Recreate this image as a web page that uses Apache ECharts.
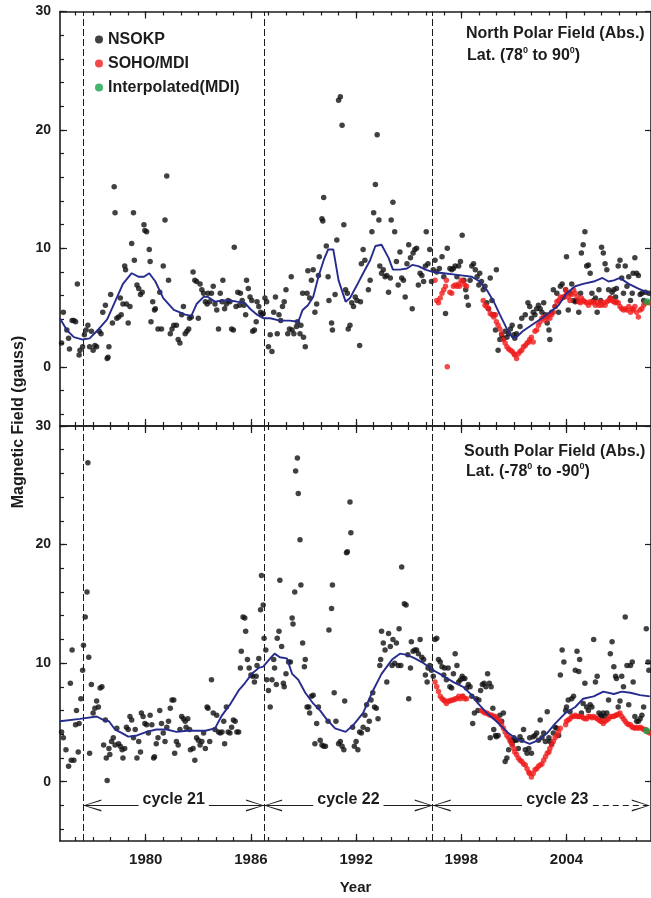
<!DOCTYPE html>
<html><head><meta charset="utf-8">
<script src="https://cdn.jsdelivr.net/npm/echarts@6/dist/echarts.min.js"></script>
<style>html,body{margin:0;padding:0;background:#fff}#c{width:651px;height:898px}</style>
</head><body><div id="c"></div>
<script>
// ---------- axis ticks / labels ----------
const xMajorTicks = [1980, 1986, 1992, 1998, 2004];
const xMinorTicks = [1976,1977,1978,1979,1980,1981,1982,1983,1984,1985,1986,1987,1988,1989,1990,1991,1992,1993,1994,1995,1996,1997,1998,1999,2000,2001,2002,2003,2004,2005,2006,2007,2008];
const yMajorTicks = [0, 10, 20, 30];
const yMinorTicks = [-4,-2,0,2,4,6,8,10,12,14,16,18,20,22,24,26,28,30];
const cycleStarts = [1976.44, 1986.75, 1996.37];
const cycleNames = ['cycle 21', 'cycle 22', 'cycle 23'];

// ---------- North polar field ----------
const northNso = [[1975.1,2.7],[1975.2,2.0],[1975.3,4.6],[1975.5,3.1],[1975.6,2.4],[1975.65,1.5],[1975.8,3.9],[1975.9,3.9],[1976.0,3.8],[1976.1,7.0],[1976.2,1.0],[1976.25,1.4],[1976.4,1.7],[1976.5,2.7],[1976.6,3.1],[1976.7,3.5],[1976.8,1.7],[1976.9,3.0],[1977.0,1.4],[1977.1,1.8],[1977.2,1.7],[1977.35,3.0],[1977.45,2.8],[1977.55,4.6],[1977.7,5.2],[1977.8,0.7],[1977.85,0.8],[1977.9,1.7],[1978.0,6.1],[1978.1,3.7],[1978.2,15.2],[1978.25,13.0],[1978.35,4.1],[1978.45,4.2],[1978.55,5.8],[1978.6,4.4],[1978.7,5.3],[1978.8,8.5],[1978.85,8.2],[1978.9,5.3],[1979.0,3.7],[1979.1,5.1],[1979.2,10.4],[1979.3,13.0],[1979.35,9.0],[1979.5,6.9],[1979.6,6.6],[1979.7,6.1],[1979.8,6.3],[1979.9,12.0],[1979.95,11.5],[1980.05,11.4],[1980.2,9.9],[1980.25,8.9],[1980.3,3.8],[1980.4,5.5],[1980.5,4.8],[1980.55,4.9],[1980.7,3.2],[1980.8,6.3],[1980.9,3.2],[1981.0,8.5],[1981.1,12.4],[1981.2,16.1],[1981.3,7.3],[1981.4,2.8],[1981.5,3.2],[1981.6,3.5],[1981.75,3.5],[1981.85,2.3],[1981.95,2.0],[1982.05,4.4],[1982.15,5.1],[1982.25,2.8],[1982.35,3.0],[1982.45,3.2],[1982.5,4.1],[1982.6,4.2],[1982.7,8.0],[1982.8,7.3],[1982.9,7.2],[1983.0,4.1],[1983.1,7.0],[1983.2,6.5],[1983.3,6.2],[1983.4,5.5],[1983.5,5.3],[1983.55,6.2],[1983.65,5.5],[1983.75,6.2],[1983.85,6.8],[1983.95,5.3],[1984.05,4.8],[1984.15,3.2],[1984.25,6.2],[1984.35,5.5],[1984.4,7.3],[1984.5,4.9],[1984.6,5.3],[1984.7,5.6],[1984.8,5.5],[1984.9,3.2],[1985.0,3.1],[1985.05,10.1],[1985.15,5.1],[1985.25,6.3],[1985.35,5.2],[1985.4,6.2],[1985.5,5.6],[1985.6,5.2],[1985.7,4.4],[1985.75,7.3],[1985.85,6.6],[1985.95,5.9],[1986.05,5.6],[1986.1,3.0],[1986.2,3.1],[1986.3,3.8],[1986.35,5.5],[1986.45,5.1],[1986.55,4.6],[1986.6,4.4],[1986.7,4.5],[1986.8,5.8],[1986.9,5.5],[1987.0,1.7],[1987.1,2.7],[1987.2,1.3],[1987.3,4.6],[1987.4,5.9],[1987.5,2.8],[1987.6,4.4],[1987.7,3.9],[1987.8,5.1],[1987.9,5.5],[1988.0,6.5],[1988.1,2.8],[1988.2,3.2],[1988.3,7.6],[1988.35,3.1],[1988.45,2.8],[1988.6,3.4],[1988.65,3.8],[1988.8,2.8],[1988.85,3.5],[1988.95,6.2],[1989.0,2.5],[1989.1,1.7],[1989.2,6.2],[1989.25,8.1],[1989.35,5.8],[1989.45,7.3],[1989.55,8.2],[1989.65,4.6],[1989.75,5.3],[1989.85,7.7],[1989.9,9.3],[1990.05,12.5],[1990.1,12.3],[1990.15,14.3],[1990.3,10.2],[1990.4,7.6],[1990.45,5.6],[1990.6,3.7],[1990.65,3.1],[1990.8,6.1],[1990.9,10.7],[1991.0,22.5],[1991.1,22.8],[1991.2,20.4],[1991.3,12.0],[1991.4,6.5],[1991.5,6.2],[1991.55,3.2],[1991.65,3.5],[1991.75,5.4],[1991.85,5.1],[1991.95,5.9],[1992.05,5.6],[1992.2,1.8],[1992.25,5.5],[1992.3,8.7],[1992.4,9.9],[1992.5,9.0],[1992.7,6.5],[1992.8,7.3],[1992.9,11.4],[1993.0,13.0],[1993.1,15.4],[1993.2,19.6],[1993.3,12.4],[1993.35,8.5],[1993.45,7.9],[1993.55,8.2],[1993.65,7.6],[1993.75,7.7],[1993.85,6.3],[1993.95,7.5],[1994.0,12.4],[1994.1,13.9],[1994.2,11.4],[1994.3,8.9],[1994.4,6.9],[1994.5,9.7],[1994.6,7.5],[1994.7,7.3],[1994.8,5.9],[1994.9,8.7],[1995.0,10.3],[1995.1,9.2],[1995.2,4.9],[1995.25,9.6],[1995.35,9.9],[1995.45,10.0],[1995.55,6.9],[1995.65,7.9],[1995.75,7.7],[1995.85,7.2],[1995.95,8.5],[1996.0,11.4],[1996.1,8.7],[1996.2,9.9],[1996.3,7.2],[1996.4,8.2],[1996.5,9.0],[1996.6,8.0],[1996.75,8.3],[1996.9,9.3],[1997.0,7.6],[1997.1,4.5],[1997.2,10.0],[1997.35,8.3],[1997.45,8.2],[1997.55,8.3],[1997.65,8.5],[1997.75,7.6],[1997.85,8.5],[1997.95,8.9],[1998.05,11.1],[1998.15,7.3],[1998.25,6.5],[1998.3,5.9],[1998.4,5.2],[1998.5,7.3],[1998.6,8.5],[1998.7,8.7],[1998.8,8.2],[1998.9,7.6],[1999.0,6.9],[1999.05,7.9],[1999.15,7.2],[1999.25,6.5],[1999.35,6.8],[1999.45,5.4],[1999.55,4.9],[1999.65,7.5],[1999.75,5.6],[1999.85,4.4],[1999.95,3.1],[2000.0,8.2],[2000.1,1.4],[2000.2,2.3],[2000.3,2.7],[2000.4,2.4],[2000.5,3.0],[2000.6,2.5],[2000.7,2.8],[2000.8,3.2],[2000.9,3.5],[2001.0,2.7],[2001.05,2.4],[2001.15,2.8],[2001.35,3.4],[2001.45,4.1],[2001.65,4.4],[2001.8,5.4],[2001.9,5.1],[2002.0,4.1],[2002.1,4.6],[2002.2,4.4],[2002.3,4.9],[2002.4,5.2],[2002.5,4.9],[2002.6,4.6],[2002.7,5.4],[2002.8,4.4],[2002.9,3.7],[2003.0,3.1],[2003.05,2.3],[2003.15,4.6],[2003.25,6.5],[2003.35,5.1],[2003.45,6.2],[2003.55,4.6],[2003.65,6.8],[2003.75,7.0],[2003.85,5.9],[2003.95,6.5],[2004.0,9.3],[2004.1,4.8],[2004.2,6.2],[2004.3,7.0],[2004.4,5.6],[2004.5,5.5],[2004.6,5.6],[2004.7,4.6],[2004.8,6.2],[2004.85,9.6],[2004.95,10.3],[2005.05,11.4],[2005.15,8.5],[2005.25,8.6],[2005.35,7.9],[2005.45,6.2],[2005.55,5.6],[2005.65,5.8],[2005.75,4.6],[2005.85,6.5],[2005.95,5.6],[2006.0,10.1],[2006.1,9.6],[2006.2,8.7],[2006.3,8.2],[2006.4,6.5],[2006.5,5.8],[2006.6,6.3],[2006.7,6.5],[2006.8,5.9],[2006.85,6.6],[2006.95,8.5],[2007.05,9.0],[2007.15,7.5],[2007.25,6.2],[2007.35,8.5],[2007.45,6.8],[2007.55,7.6],[2007.65,5.6],[2007.75,6.2],[2007.8,7.9],[2007.9,9.2],[2008.0,7.9],[2008.1,7.7],[2008.2,6.1],[2008.3,6.2],[2008.4,5.6],[2008.5,6.3],[2008.7,6.2]];
const northMdi = [[1996.5,7.3],[1996.6,5.6],[1996.7,5.4],[1996.8,5.8],[1996.9,6.2],[1997.0,6.5],[1997.1,6.8],[1997.15,7.3],[1997.2,0.0],[1997.35,6.3],[1997.45,6.2],[1997.55,6.8],[1997.65,6.9],[1997.75,6.8],[1997.85,7.0],[1997.9,6.8],[1998.0,7.3],[1998.1,7.2],[1998.2,6.9],[1998.3,6.8],[1999.25,5.6],[1999.35,5.2],[1999.45,5.1],[1999.55,4.9],[1999.65,4.5],[1999.75,4.4],[1999.85,4.2],[1999.95,4.4],[2000.0,3.8],[2000.1,3.5],[2000.2,3.2],[2000.3,2.8],[2000.4,2.3],[2000.5,2.0],[2000.6,1.7],[2000.7,1.5],[2000.8,1.4],[2000.9,1.3],[2001.0,1.1],[2001.05,1.0],[2001.15,0.7],[2001.25,1.1],[2001.35,1.3],[2001.45,1.4],[2001.55,1.7],[2001.65,1.8],[2001.75,2.0],[2001.85,2.1],[2001.9,2.3],[2002.0,2.5],[2002.1,2.1],[2002.2,3.0],[2002.3,3.1],[2002.4,3.5],[2002.5,3.8],[2002.6,4.1],[2002.7,4.2],[2002.8,3.9],[2002.9,4.2],[2003.0,4.4],[2003.05,4.1],[2003.15,4.4],[2003.25,4.6],[2003.35,5.1],[2003.45,5.5],[2003.55,5.6],[2003.65,5.9],[2003.75,5.8],[2003.85,5.9],[2003.95,6.5],[2004.0,6.2],[2004.1,5.9],[2004.2,5.6],[2004.3,6.1],[2004.4,6.5],[2004.5,6.2],[2004.6,5.9],[2004.7,5.5],[2004.8,5.4],[2004.85,5.8],[2004.95,5.6],[2005.05,5.5],[2005.15,5.4],[2005.25,5.2],[2005.35,5.5],[2005.45,5.4],[2005.55,5.5],[2005.65,5.2],[2005.75,5.4],[2005.85,5.2],[2005.95,5.5],[2006.0,5.2],[2006.1,5.4],[2006.2,5.2],[2006.3,5.5],[2006.4,5.6],[2006.5,5.8],[2006.6,5.6],[2006.7,5.5],[2006.8,5.4],[2006.85,5.5],[2006.95,5.4],[2007.05,5.1],[2007.15,4.9],[2007.25,4.8],[2007.35,4.9],[2007.45,4.8],[2007.55,5.1],[2007.65,4.6],[2007.75,4.9],[2007.8,4.8],[2007.9,5.1],[2008.0,4.6],[2008.1,4.2],[2008.2,4.8],[2008.3,4.9],[2008.4,5.2],[2008.5,5.4],[2008.7,5.4]];
const northInterp = [[2008.6,5.5]];
const northSmooth = [[1975.1,4.1],[1975.5,3.1],[1975.9,2.5],[1976.4,2.3],[1976.8,2.4],[1977.2,3.0],[1977.8,4.0],[1978.25,5.5],[1978.7,7.0],[1979.2,7.9],[1979.6,7.6],[1979.9,7.6],[1980.2,7.9],[1980.55,7.2],[1981.0,5.8],[1981.6,4.8],[1981.95,4.6],[1982.25,4.4],[1982.6,4.3],[1982.9,5.3],[1983.3,5.9],[1983.55,5.9],[1983.95,5.5],[1984.35,5.6],[1984.8,5.6],[1985.2,5.5],[1985.65,5.4],[1985.95,4.9],[1986.35,4.4],[1986.7,4.1],[1987.1,4.1],[1987.65,3.9],[1988.2,3.9],[1988.7,3.8],[1988.95,4.8],[1989.25,5.2],[1989.55,5.9],[1989.85,7.6],[1990.15,9.0],[1990.4,9.9],[1990.7,9.9],[1991.0,7.3],[1991.4,5.5],[1991.65,5.8],[1992.05,6.9],[1992.4,7.9],[1992.8,9.0],[1993.1,10.2],[1993.45,10.3],[1993.85,9.2],[1994.1,8.2],[1994.5,8.2],[1994.9,8.3],[1995.2,8.6],[1995.55,8.5],[1995.95,8.2],[1996.4,8.0],[1997.0,7.9],[1997.55,7.8],[1998.1,7.7],[1998.6,7.6],[1999.05,7.2],[1999.45,6.5],[1999.85,5.5],[2000.2,4.4],[2000.6,3.2],[2000.9,2.5],[2001.15,2.5],[2001.5,3.0],[2002.0,3.5],[2002.6,4.1],[2003.05,4.6],[2003.55,5.2],[2004.0,6.2],[2004.5,6.8],[2004.95,7.0],[2005.55,7.2],[2006.05,7.5],[2006.4,7.2],[2006.7,7.3],[2007.05,7.5],[2007.55,7.0],[2008.1,6.6],[2008.75,6.2]];

// ---------- South polar field ----------
const southNso = [[1975.1,3.8],[1975.2,4.2],[1975.3,3.7],[1975.45,2.7],[1975.6,1.3],[1975.7,8.3],[1975.75,1.8],[1975.8,11.1],[1975.9,1.8],[1976.0,4.8],[1976.05,6.0],[1976.15,2.5],[1976.2,4.9],[1976.3,7.0],[1976.4,9.4],[1976.45,11.5],[1976.55,13.9],[1976.65,16.0],[1976.7,26.9],[1976.75,10.5],[1976.8,2.4],[1976.9,8.2],[1977.0,5.8],[1977.1,6.2],[1977.2,6.8],[1977.3,6.3],[1977.4,7.9],[1977.5,8.0],[1977.6,3.1],[1977.7,5.2],[1977.75,2.0],[1977.8,0.1],[1977.9,2.8],[1977.95,2.3],[1978.05,3.4],[1978.15,3.7],[1978.25,3.1],[1978.35,4.5],[1978.45,3.2],[1978.55,3.0],[1978.65,2.7],[1978.7,2.0],[1978.8,2.8],[1978.9,4.6],[1979.0,4.4],[1979.1,5.5],[1979.2,5.2],[1979.3,3.7],[1979.4,4.4],[1979.5,2.0],[1979.6,3.4],[1979.7,2.5],[1979.75,5.8],[1979.85,5.5],[1979.95,4.9],[1980.05,4.8],[1980.15,4.1],[1980.25,5.6],[1980.35,4.8],[1980.45,2.0],[1980.5,2.1],[1980.6,3.2],[1980.7,3.7],[1980.8,6.0],[1980.9,4.9],[1981.0,4.1],[1981.1,3.4],[1981.2,4.6],[1981.3,5.1],[1981.4,6.2],[1981.5,6.9],[1981.6,6.9],[1981.65,2.4],[1981.75,3.4],[1981.85,3.1],[1981.95,4.4],[1982.05,5.5],[1982.15,5.3],[1982.25,5.1],[1982.3,4.6],[1982.4,5.3],[1982.5,4.4],[1982.55,2.7],[1982.7,2.8],[1982.8,1.8],[1982.9,3.7],[1983.0,3.5],[1983.1,3.1],[1983.2,3.4],[1983.3,4.1],[1983.4,2.8],[1983.5,6.3],[1983.55,6.2],[1983.65,3.4],[1983.75,8.6],[1983.85,5.8],[1983.95,4.4],[1984.05,5.6],[1984.15,4.2],[1984.25,4.1],[1984.35,4.2],[1984.45,5.1],[1984.5,3.2],[1984.6,6.3],[1984.7,4.2],[1984.8,4.1],[1984.9,4.6],[1985.0,5.2],[1985.1,5.1],[1985.2,4.2],[1985.3,4.2],[1985.4,9.6],[1985.45,11.0],[1985.55,13.9],[1985.65,13.8],[1985.7,12.7],[1985.8,10.3],[1985.9,9.6],[1986.0,9.0],[1986.1,8.9],[1986.2,8.4],[1986.3,8.9],[1986.35,9.8],[1986.45,10.4],[1986.55,14.5],[1986.6,17.4],[1986.7,14.9],[1986.75,12.1],[1986.85,11.1],[1986.9,8.6],[1987.0,7.7],[1987.1,6.3],[1987.2,8.6],[1987.3,10.3],[1987.35,9.6],[1987.45,8.2],[1987.5,12.1],[1987.6,12.7],[1987.65,17.0],[1987.75,11.4],[1987.85,8.3],[1987.9,8.0],[1988.0,9.1],[1988.15,10.1],[1988.25,10.1],[1988.35,13.8],[1988.4,13.3],[1988.5,16.0],[1988.55,26.2],[1988.65,27.3],[1988.7,24.3],[1988.8,20.4],[1988.85,16.6],[1988.95,11.7],[1989.05,9.7],[1989.1,10.3],[1989.2,6.3],[1989.3,6.3],[1989.35,5.8],[1989.45,7.2],[1989.55,7.3],[1989.65,3.2],[1989.75,4.9],[1989.85,6.3],[1989.95,3.5],[1990.05,3.1],[1990.15,3.0],[1990.25,3.0],[1990.4,5.1],[1990.45,12.8],[1990.6,14.6],[1990.65,16.6],[1990.75,7.5],[1990.85,5.1],[1991.0,3.2],[1991.1,3.4],[1991.2,3.0],[1991.3,2.7],[1991.35,6.8],[1991.45,19.3],[1991.5,19.4],[1991.65,23.6],[1991.7,21.0],[1991.8,4.6],[1991.9,3.0],[1992.0,3.4],[1992.1,2.7],[1992.2,4.2],[1992.3,4.1],[1992.4,4.6],[1992.5,5.6],[1992.6,6.5],[1992.65,4.4],[1992.75,5.1],[1992.85,6.9],[1992.95,7.5],[1993.05,6.3],[1993.15,6.2],[1993.25,5.3],[1993.35,9.8],[1993.4,10.3],[1993.45,12.7],[1993.55,11.7],[1993.65,11.1],[1993.75,8.4],[1993.85,12.5],[1993.95,11.4],[1994.05,9.8],[1994.1,12.0],[1994.2,10.0],[1994.3,11.7],[1994.4,9.8],[1994.45,12.9],[1994.55,9.8],[1994.6,18.1],[1994.75,15.0],[1994.85,14.9],[1994.95,10.7],[1995.0,7.0],[1995.1,9.6],[1995.15,11.8],[1995.25,11.0],[1995.35,11.1],[1995.45,11.1],[1995.55,10.8],[1995.65,12.0],[1995.75,10.5],[1995.85,10.3],[1995.95,9.0],[1996.05,8.4],[1996.1,9.6],[1996.2,9.8],[1996.3,9.4],[1996.4,8.9],[1996.5,12.0],[1996.6,12.1],[1996.7,10.3],[1996.8,10.1],[1996.9,9.7],[1997.0,9.0],[1997.05,9.6],[1997.15,8.6],[1997.25,9.6],[1997.35,8.0],[1997.45,7.9],[1997.55,9.1],[1997.65,10.8],[1997.75,9.8],[1997.85,8.4],[1997.95,8.6],[1998.05,8.9],[1998.1,8.7],[1998.2,8.7],[1998.3,7.9],[1998.4,8.2],[1998.5,8.0],[1998.6,7.2],[1998.65,4.9],[1998.75,5.8],[1998.85,7.0],[1998.95,6.0],[1999.0,6.9],[1999.1,7.7],[1999.2,8.2],[1999.3,8.3],[1999.4,8.0],[1999.5,9.1],[1999.6,8.3],[1999.7,8.0],[1999.8,6.2],[1999.65,3.7],[1999.85,4.4],[1999.95,3.9],[2000.0,3.8],[2000.1,3.9],[2000.2,5.6],[2000.3,5.1],[2000.4,5.8],[2000.5,1.7],[2000.6,2.0],[2000.7,2.7],[2000.8,3.5],[2000.9,3.2],[2001.0,3.7],[2001.05,3.5],[2001.15,3.5],[2001.25,2.8],[2001.35,3.8],[2001.45,3.5],[2001.55,4.4],[2001.65,2.7],[2001.75,2.4],[2001.85,2.8],[2001.9,3.7],[2002.0,2.4],[2002.1,3.8],[2002.2,3.9],[2002.3,4.1],[2002.4,3.5],[2002.5,5.2],[2002.6,3.7],[2002.7,4.1],[2002.8,3.4],[2002.9,5.9],[2003.0,3.7],[2003.05,3.4],[2003.15,3.2],[2003.25,4.1],[2003.35,4.6],[2003.45,4.5],[2003.55,3.9],[2003.65,9.0],[2003.75,11.1],[2003.85,10.1],[2003.95,6.0],[2004.0,6.3],[2004.1,6.9],[2004.2,5.9],[2004.3,7.0],[2004.4,7.2],[2004.5,9.4],[2004.6,11.0],[2004.7,9.3],[2004.75,10.3],[2004.85,5.8],[2004.95,6.6],[2005.05,8.3],[2005.15,6.3],[2005.25,6.0],[2005.35,6.5],[2005.45,6.3],[2005.55,12.0],[2005.65,8.4],[2005.75,8.9],[2005.85,5.8],[2005.95,5.6],[2006.0,5.5],[2006.1,5.8],[2006.2,5.5],[2006.3,5.8],[2006.4,6.9],[2006.5,10.8],[2006.6,11.8],[2006.7,9.7],[2006.8,8.9],[2006.85,8.7],[2006.95,6.3],[2007.05,6.8],[2007.15,8.9],[2007.25,8.0],[2007.35,13.9],[2007.45,9.8],[2007.55,6.5],[2007.65,9.8],[2007.75,10.1],[2007.8,8.4],[2007.9,5.5],[2008.0,5.1],[2008.1,5.1],[2008.2,5.3],[2008.3,5.6],[2008.4,6.3],[2008.55,12.9],[2008.65,10.1],[2008.7,9.4]];
const southMdi = [[1996.5,8.4],[1996.6,8.0],[1996.7,7.6],[1996.8,7.2],[1996.9,7.0],[1997.0,6.9],[1997.05,6.8],[1997.15,6.6],[1997.25,6.8],[1997.35,6.8],[1997.45,6.9],[1997.55,6.9],[1997.65,7.0],[1997.75,7.0],[1997.85,7.2],[1997.95,7.0],[1998.05,7.2],[1998.1,7.2],[1998.2,7.0],[1998.3,7.0],[1999.15,6.0],[1999.25,5.9],[1999.35,5.8],[1999.45,5.8],[1999.55,5.7],[1999.65,5.6],[1999.75,5.6],[1999.85,5.5],[1999.95,5.5],[2000.0,5.3],[2000.1,5.2],[2000.2,5.1],[2000.3,4.8],[2000.4,4.5],[2000.5,4.2],[2000.6,3.9],[2000.7,3.7],[2000.8,3.4],[2000.9,3.1],[2001.0,2.8],[2001.05,2.5],[2001.15,2.3],[2001.25,2.0],[2001.35,1.8],[2001.45,1.7],[2001.55,1.5],[2001.65,1.4],[2001.75,1.1],[2001.85,0.8],[2001.9,0.7],[2002.0,0.4],[2002.1,0.7],[2002.2,1.0],[2002.3,1.1],[2002.4,1.3],[2002.5,1.4],[2002.6,1.5],[2002.7,1.8],[2002.8,2.1],[2002.9,2.4],[2003.0,2.5],[2003.05,2.8],[2003.15,3.1],[2003.25,3.4],[2003.35,3.7],[2003.45,3.9],[2003.55,4.2],[2003.65,4.5],[2003.95,4.8],[2004.0,5.1],[2004.1,5.2],[2004.2,5.3],[2004.3,5.5],[2004.4,5.5],[2004.5,5.6],[2004.6,5.5],[2004.7,5.5],[2004.75,5.5],[2004.85,5.5],[2004.95,5.4],[2005.05,5.3],[2005.15,5.3],[2005.25,5.5],[2005.35,5.5],[2005.45,5.4],[2005.55,5.5],[2005.65,5.4],[2005.75,5.3],[2005.85,5.2],[2005.95,5.1],[2006.0,5.1],[2006.1,4.9],[2006.2,5.1],[2006.3,5.2],[2006.4,5.3],[2006.5,5.5],[2006.6,5.5],[2006.7,5.5],[2006.8,5.6],[2006.85,5.6],[2006.95,5.7],[2007.05,5.8],[2007.15,5.5],[2007.25,5.3],[2007.35,5.1],[2007.45,4.9],[2007.55,4.8],[2007.65,4.8],[2007.75,4.6],[2007.8,4.6],[2007.9,4.5],[2008.0,4.6],[2008.1,4.5],[2008.2,4.6],[2008.3,4.5],[2008.4,4.4],[2008.5,4.4],[2008.65,4.2],[2008.75,4.1]];
const southInterp = [[2008.57,4.3]];
const southSmooth = [[1975.1,5.1],[1976.25,5.3],[1977.2,5.5],[1977.6,5.2],[1977.9,5.1],[1978.25,4.4],[1978.65,4.1],[1979.0,3.8],[1979.5,3.9],[1980.05,4.2],[1980.6,4.4],[1981.2,4.4],[1981.75,4.2],[1982.35,4.3],[1982.9,4.3],[1983.4,4.3],[1983.95,4.5],[1984.35,5.6],[1984.8,6.5],[1985.3,7.7],[1985.65,8.3],[1986.05,9.1],[1986.45,9.6],[1986.7,9.7],[1987.1,10.4],[1987.35,10.8],[1987.65,10.5],[1988.05,10.4],[1988.35,9.1],[1988.7,8.6],[1989.1,7.5],[1989.55,6.6],[1989.95,6.0],[1990.3,5.3],[1990.8,4.5],[1991.4,4.2],[1991.85,4.8],[1992.4,5.8],[1992.9,7.5],[1993.45,9.1],[1994.05,10.3],[1994.5,10.8],[1994.9,10.7],[1995.35,10.4],[1995.85,10.0],[1996.4,9.4],[1997.0,8.9],[1997.55,8.4],[1998.1,8.0],[1998.6,7.3],[1998.95,6.6],[1999.45,5.8],[2000.0,5.1],[2000.6,4.2],[2001.15,3.6],[2001.55,3.4],[2001.9,3.2],[2002.4,3.5],[2002.9,4.1],[2003.35,4.9],[2003.95,5.8],[2004.5,6.3],[2004.95,7.0],[2005.55,7.2],[2006.1,7.6],[2006.7,7.4],[2007.15,7.6],[2007.65,7.5],[2008.2,7.3],[2008.75,7.2]];

// ---------- layout / style ----------
const XMIN = 1975.11, XMAX = 2008.82;
const FONT = 'Liberation Sans, Arial, Helvetica, sans-serif';
const INK = '#1c1c1c';
const BLACK = '#111111', RED = '#f01c1c', GREEN = '#17a34a', BLUE = '#262c8e';
const CHEV = 'path://M5,0 L5.01,0 L5,0.01 Z M5,20 L10,40 L8.8,40 L5,22.2 L1.2,40 L0,40 Z';

function xAx(g, pos, ticks, len, line, labels, extra) {
  return Object.assign({
    type: 'value', gridIndex: g, position: pos, min: XMIN, max: XMAX,
    axisLine: { show: line, onZero: false, lineStyle: { color: INK, width: 1.6 } },
    axisTick: { show: true, inside: true, length: len, customValues: ticks, lineStyle: { color: INK, width: 1.2 } },
    axisLabel: { show: !!labels, customValues: labels || [], margin: 11, color: INK, fontFamily: FONT, fontWeight: 'bold', fontSize: 15,
      formatter: v => String(Math.round(v)) },
    splitLine: { show: false }
  }, extra || {});
}
function yAx(g, pos, ticks, len, line, labels) {
  return {
    type: 'value', gridIndex: g, position: pos, min: -5, max: 30,
    axisLine: { show: line, onZero: false, lineStyle: { color: INK, width: 1.6 } },
    axisTick: { show: true, inside: true, length: len, customValues: ticks, lineStyle: { color: INK, width: 1.2 } },
    axisLabel: { show: !!labels, customValues: labels || [], margin: 9, color: INK, fontFamily: FONT, fontWeight: 'bold', fontSize: 14 },
    splitLine: { show: false }
  };
}

const xAxes = [], yAxes = [];
[0, 1].forEach(g => {
  xAxes.push(xAx(g, 'bottom', xMajorTicks, 7, true, g === 1 ? xMajorTicks : null,
    g === 1 ? { name: 'Year', nameLocation: 'middle', nameGap: 39, nameTextStyle: { color: INK, fontFamily: FONT, fontWeight: 'bold', fontSize: 15 } } : null));
  xAxes.push(xAx(g, 'bottom', xMinorTicks, 4, false, null));
  xAxes.push(xAx(g, 'top', xMajorTicks, 7, true, null));
  xAxes.push(xAx(g, 'top', xMinorTicks, 4, false, null));
  yAxes.push(yAx(g, 'left', yMajorTicks, 7, true, yMajorTicks));
  yAxes.push(yAx(g, 'left', yMinorTicks, 4, false, null));
  yAxes.push(yAx(g, 'right', yMajorTicks, 6, true, null));
});

function scatter(name, data, g, color, size) {
  return { name, type: 'scatter', data, xAxisIndex: g * 4, yAxisIndex: g * 3,
    symbol: 'circle', symbolSize: size, itemStyle: { color }, silent: true, z: 3 };
}
const vLines = cycleStarts.map(v => ({ xAxis: v }));
function smoothLine(data, g, extraMarks) {
  return { name: 'smooth', type: 'line', data, xAxisIndex: g * 4, yAxisIndex: g * 3,
    showSymbol: false, symbol: 'none', lineStyle: { color: BLUE, width: 1.9 }, z: 5, silent: true,
    markLine: { silent: true, symbol: ['none', 'none'], animation: false,
      lineStyle: { color: INK, width: 1, type: [7, 3] }, label: { show: false },
      data: vLines.concat(extraMarks || []) } };
}

const cycLabel = (txt) => ({ show: true, position: 'middle', formatter: txt, color: INK, fontFamily: FONT,
  fontWeight: 'bold', fontSize: 16, backgroundColor: '#fff', padding: [0, 4, 0, 4], distance: -2 });
const CY = -2;
const cycleMarks = [
  [{ coord: [cycleStarts[0], CY], symbol: CHEV, symbolSize: [12, 36], lineStyle: { type: 'solid', color: INK, width: 1 }, label: cycLabel(cycleNames[0]) },
   { coord: [cycleStarts[1], CY], symbol: CHEV, symbolSize: [12, 36] }],
  [{ coord: [cycleStarts[1], CY], symbol: CHEV, symbolSize: [12, 36], lineStyle: { type: 'solid', color: INK, width: 1 }, label: cycLabel(cycleNames[1]) },
   { coord: [cycleStarts[2], CY], symbol: CHEV, symbolSize: [12, 36] }],
  [{ coord: [cycleStarts[2], CY], symbol: CHEV, symbolSize: [12, 36], lineStyle: { type: 'solid', color: INK, width: 1 } },
   { coord: [2001.46, CY], symbol: 'none' }],
  [{ coord: [2001.46, CY], symbol: 'none', lineStyle: { type: 'solid', color: 'rgba(0,0,0,0)', width: 1 }, label: cycLabel(cycleNames[2]) },
   { coord: [2005.5, CY], symbol: 'none' }],
  [{ coord: [2005.5, CY], symbol: 'none', lineStyle: { type: [6, 4], color: INK, width: 1 } },
   { coord: [2008.75, CY], symbol: CHEV, symbolSize: [12, 36] }]
];

const txt = (x, y, text, extra) => Object.assign({ type: 'text', x, y, silent: true,
  style: { text, fill: INK, font: 'bold 16px ' + FONT, verticalAlign: 'middle' } }, extra || {});
const latRich = { a: { fontFamily: FONT, fontWeight: 'bold', fontSize: 16, fill: INK, color: INK, lineHeight: 19 },
                  s: { fontFamily: FONT, fontWeight: 'bold', fontSize: 9, fill: INK, color: INK, lineHeight: 19, verticalAlign: 'top' } };

const option = {
  animation: false,
  backgroundColor: '#fff',
  grid: [
    { left: 60, top: 11.5, right: 0, height: 414.5 },
    { left: 60, top: 426, right: 0, height: 415 }
  ],
  xAxis: xAxes,
  yAxis: yAxes,
  legend: {
    data: ['NSOKP', 'SOHO/MDI', 'Interpolated(MDI)'], orient: 'vertical', left: 90, top: 26,
    itemWidth: 8, itemHeight: 8, itemGap: 7, icon: 'circle', selectedMode: false,
    textStyle: { color: INK, fontFamily: FONT, fontWeight: 'bold', fontSize: 16, lineHeight: 17 }
  },
  graphic: [
    txt(466, 34, 'North Polar Field (Abs.)'),
    { type: 'text', x: 467, y: 56, silent: true, style: { text: '{a|Lat. (78}{s|0}{a| to 90}{s|0}{a|)}', rich: latRich, verticalAlign: 'middle' } },
    txt(464, 452, 'South Polar Field (Abs.)'),
    { type: 'text', x: 466, y: 472, silent: true, style: { text: '{a|Lat. (-78}{s|0}{a| to -90}{s|0}{a|)}', rich: latRich, verticalAlign: 'middle' } },
    { type: 'text', x: 19, y: 422, rotation: Math.PI / 2, silent: true,
      style: { text: 'Magnetic Field (gauss)', fill: INK, font: 'bold 16px ' + FONT, align: 'center', verticalAlign: 'middle' } }
  ],
  series: [
    scatter('NSOKP', northNso, 0, BLACK, 5.5),
    scatter('SOHO/MDI', northMdi, 0, RED, 5.5),
    scatter('Interpolated(MDI)', northInterp, 0, GREEN, 7),
    smoothLine(northSmooth, 0),
    scatter('NSOKP', southNso, 1, BLACK, 5.5),
    scatter('SOHO/MDI', southMdi, 1, RED, 5.5),
    scatter('Interpolated(MDI)', southInterp, 1, GREEN, 7),
    smoothLine(southSmooth, 1, cycleMarks)
  ]
};
const chart = echarts.init(document.getElementById('c'), null, { renderer: 'canvas' });
chart.setOption(option);
</script>
</body></html>
